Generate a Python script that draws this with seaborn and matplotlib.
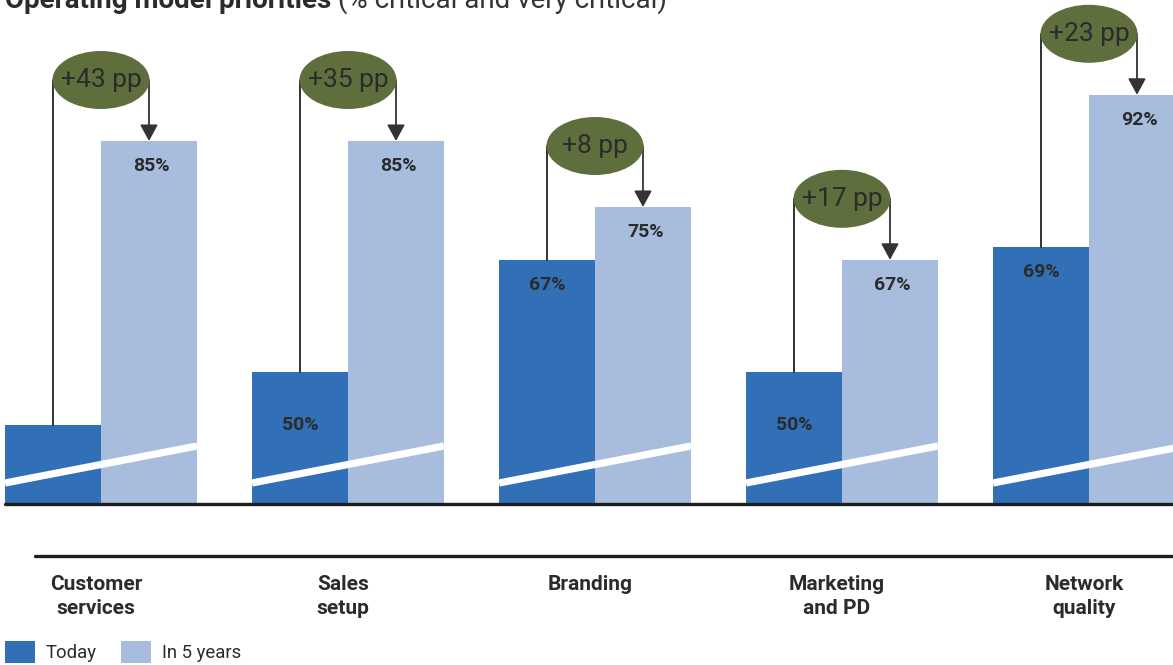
import matplotlib
matplotlib.use("Agg")
import matplotlib.pyplot as plt
from matplotlib.patches import Ellipse
from matplotlib.lines import Line2D
import seaborn as sns
import pandas as pd

# --- data -------------------------------------------------------------
categories = ["Customer\nservices", "Sales\nsetup", "Branding", "Marketing\nand PD", "Network\nquality"]
today = [42, 50, 67, 50, 69]
in_5_years = [85, 85, 75, 67, 92]
series_names = ["Today", "In 5 years"]
title_bold = "Operating model priorities"
title_rest = " (% critical and very critical)"

# --- style ------------------------------------------------------------
sns.set_theme(style="white")
plt.rcParams["font.family"] = ["Roboto", "DejaVu Sans"]

DARK = "#3170b6"
LIGHT = "#a8bddd"
OLIVE = "#5f6e3d"
TEXT = "#2b2b2b"

W, H, DPI = 1173, 665, 100
fig = plt.figure(figsize=(W / DPI, H / DPI), dpi=DPI)

# axes spans the full width; bottom edge is the (broken) baseline at 30 %
base_px = 504
ax = fig.add_axes([0, 1 - base_px / H, 1, base_px / H])

df = pd.DataFrame({
    "category": categories * 2,
    "period": [series_names[0]] * len(categories) + [series_names[1]] * len(categories),
    "value": today + in_5_years,
})

sns.barplot(data=df, x="category", y="value", hue="period", order=categories,
            hue_order=series_names, palette=[DARK, LIGHT], width=0.777,
            saturation=1, dodge=True, ax=ax, legend=False, errorbar=None,
            linewidth=0, edgecolor="none")

px_per_unit = 6.6
y_min = 30
ax.set_ylim(y_min, y_min + base_px / px_per_unit)
ax.set_xlim(-101 / 247, (W - 101) / 247)
ax.axis("off")

half = 0.777 / 2
quarter = half / 2
u = 1 / px_per_unit  # one pixel in data units (vertical)

for i, (t, f) in enumerate(zip(today, in_5_years)):
    # white break stripe across the pair of bars
    ax.plot([i - half, i + half], [y_min + 21 * u, y_min + 58 * u], color="white",
            lw=5.2, solid_capstyle="butt", zorder=3)

    # value labels inside the bars (short bars get the label lower down)
    visible = (t - y_min) / u
    if visible > 100:
        off = 25 if visible > 180 else 53
        ax.text(i - quarter, t - off * u, f"{t}%", ha="center", va="center",
                fontsize=14, fontweight="bold", color=TEXT, zorder=4)
    ax.text(i + quarter + 0.01, f - 25 * u, f"{f}%", ha="center", va="center",
            fontsize=14, fontweight="bold", color=TEXT, zorder=4)

    # change bubble and connectors
    cy = f + 61 * u
    ax.plot([i - quarter, i - quarter], [t, cy], color="#222222", lw=1.3, zorder=2)
    ax.annotate("", xy=(i + quarter, f), xytext=(i + quarter, cy),
                arrowprops=dict(arrowstyle="-|>,head_length=0.55,head_width=0.3",
                                color="#333333", lw=1.3, shrinkA=0, shrinkB=0,
                                mutation_scale=18),
                zorder=2)
    ax.add_patch(Ellipse((i, cy), width=97 / 247, height=58 * u,
                         facecolor=OLIVE, edgecolor="none", zorder=5))
    ax.text(i, cy, f"+{f - t} pp", ha="center", va="center", fontsize=19,
            color=TEXT, zorder=6)

    # category label below the axis
    ax.text(i - 0.02, -(575 - base_px) / base_px, categories[i], ha="center", va="top",
            fontsize=15, fontweight="bold", color=TEXT, linespacing=1.32,
            transform=ax.get_xaxis_transform())

# baseline and separator rules
fig.add_artist(Line2D([5 / W, 1], [1 - base_px / H] * 2, color="#1e1e1e", lw=2.4))
fig.add_artist(Line2D([35 / W, 1], [1 - 556 / H] * 2, color="#1e1e1e", lw=2.4))

# title (runs past the top edge)
t1 = fig.text(5 / W, 1 - 8 / H, title_bold, fontsize=20, fontweight="bold",
              color=TEXT, va="baseline", ha="left")
fig.canvas.draw()
bb = t1.get_window_extent()
fig.text(bb.x1 / W, 1 - 8 / H, title_rest, fontsize=20, color="#333333",
         va="baseline", ha="left")

# legend
handles = [plt.Rectangle((0, 0), 1, 1, facecolor=c, edgecolor="none") for c in (DARK, LIGHT)]
fig.legend(handles, series_names, loc="center left", bbox_to_anchor=(5 / W, 1 - 652 / H),
           ncol=2, frameon=False, fontsize=13.3, handlelength=1.62, handleheight=1.5,
           handletextpad=0.6, columnspacing=1.3, borderpad=0, borderaxespad=0,
           labelcolor=TEXT)

fig.savefig("out.png", dpi=DPI)
